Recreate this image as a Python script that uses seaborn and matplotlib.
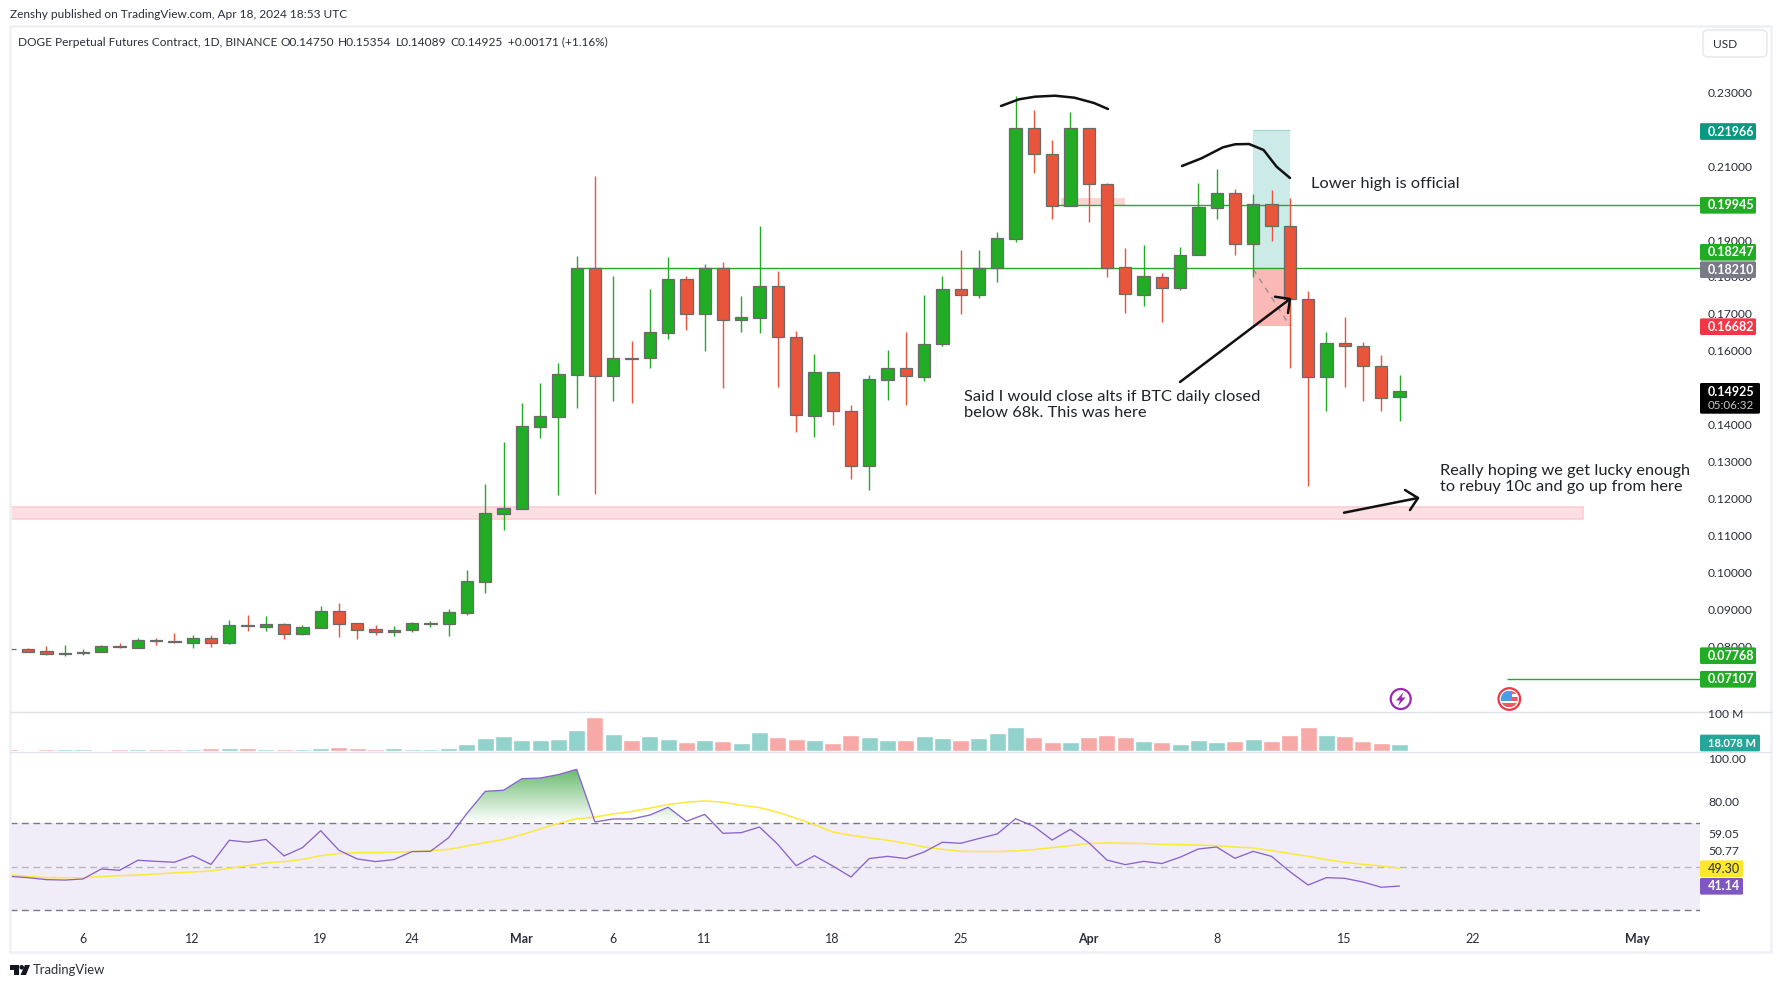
import numpy as np
import seaborn as sns
import matplotlib
matplotlib.use("Agg")
import matplotlib.pyplot as plt
from matplotlib.patches import Rectangle, Circle, Polygon, FancyBboxPatch
from matplotlib.colors import LinearSegmentedColormap

# days since Feb 6 2024, one candle per day up to Apr 18
days = list(range(-4, 73))

opens = [.07920, .07917, .07863, .07799, .07818, .07836, .07998, .07962, .08160, .08133, .08097, .08215,
         .08097, .08567, .08531, .08594, .08341, .08504, .08946, .08621, .08458, .08395, .08449, .08612,
         .08612, .08910, .09749, .11590, .11726, .13946, .14217, .15354, .18243, .15327, .15797, .15797,
         .16492, .17936, .17006, .18234, .16826, .16898, .17746, .16365, .14244, .15418, .14362, .12872,
         .15219, .15526, .15300, .16176, .17665, .17521, .18234, .19037, .22025, .21321, .19931, .22025,
         .20508, .18261, .17521, .17990, .17710, .18586, .19876, .20265, .18902, .19967, .19371, .17394,
         .15282, .16203, .16122, .15580, .14750]
closes = [.07914, .07854, .07799, .07818, .07836, .07998, .07980, .08160, .08151, .08124, .08215, .08097,
          .08567, .08558, .08594, .08341, .08513, .08946, .08612, .08449, .08395, .08432, .08621, .08621,
          .08919, .09758, .11599, .11735, .13955, .14226, .15363, .18243, .15327, .15797, .15788, .16501,
          .17936, .17006, .18234, .16826, .16916, .17746, .16365, .14253, .15418, .14362, .12872, .15228,
          .15526, .15309, .16176, .17665, .17521, .18234, .19046, .22025, .21321, .19931, .22025, .20508,
          .18252, .17530, .18017, .17710, .18586, .19886, .20265, .18902, .19967, .19371, .17394, .15282,
          .16203, .16122, .15580, .14732, .14925]
highs = [.08007, .07953, .08007, .08034, .07926, .08034, .08088, .08215, .08215, .08350, .08305, .08305,
         .08711, .08847, .08819, .08630, .08576, .09090, .09171, .08621, .08576, .08549, .08657, .08684,
         .09000, .10065, .12394, .13531, .14587, .15129, .15670, .18568, .20734, .18026, .16266, .17674,
         .18541, .18026, .18351, .18405, .17485, .19380, .18162, .16537, .15914, .15418, .14533, .15345,
         .16022, .16510, .17512, .18026, .18730, .18730, .19218, .22900, .22521, .21709, .22467, .22025,
         .20544, .18784, .18866, .18107, .18811, .20544, .20923, .20382, .20247, .20355, .20138, .17620,
         .16510, .16916, .16239, .15887, .15354]
lows = [.07845, .07854, .07763, .07736, .07763, .07836, .07953, .07953, .08034, .08088, .07953, .07980,
        .08061, .08413, .08413, .08197, .08305, .08495, .08251, .08197, .08305, .08278, .08387, .08522,
        .08278, .08847, .09442, .11148, .11726, .13639, .12096, .14452, .12123, .14650, .14596, .15544,
        .16320, .16564, .15995, .14993, .16510, .16483, .15020, .13802, .13667, .13992, .12529, .12231,
        .14668, .14533, .15183, .16131, .16997, .17430, .17864, .18947, .20815, .19570, .19931, .19488,
        .17999, .17024, .17214, .16781, .17647, .18586, .19570, .18595, .17999, .18974, .15535, .12340,
        .14371, .15020, .14641, .14371, .14089]

# volume in millions
volume = [5.2, 2.6, 5.2, 5.2, 5.2, 2.6, 5.2, 5.2, 5.2, 5.2, 5.2, 7.7, 7.7, 7.7, 5.2, 5.2, 5.2, 7.7, 10.3,
          7.7, 5.2, 7.7, 5.2, 5.2, 7.7, 18.1, 33.6, 38.7, 28.4, 28.4, 31.0, 54.2, 87.8, 43.9, 28.4, 38.7,
          31.0, 23.2, 28.4, 25.8, 20.7, 49.1, 36.2, 31.0, 28.4, 20.7, 41.3, 36.2, 28.4, 28.4, 38.7, 33.6,
          28.4, 33.6, 46.5, 62.0, 36.2, 23.2, 23.2, 36.2, 41.3, 36.2, 25.8, 23.2, 18.1, 28.4, 23.2, 25.8,
          31.0, 25.8, 41.3, 62.0, 41.3, 38.7, 25.8, 20.7, 18.078]
volume_dir = ["d", "d", "d", "u", "u", "u", "d", "u", "d", "d", "u", "d", "u", "d", "u", "d", "u", "u", "d",
              "d", "d", "u", "u", "u", "u", "u", "u", "u", "u", "u", "u", "u", "d", "u", "d", "u", "u", "d",
              "u", "d", "u", "u", "d", "d", "u", "d", "d", "u", "u", "d", "u", "u", "d", "u", "u", "u", "d",
              "d", "u", "d", "d", "d", "u", "d", "u", "u", "u", "d", "u", "d", "d", "d", "u", "d", "d", "d", "u"]

rsi = [45.6, 45.0, 44.1, 43.9, 44.4, 49.0, 48.4, 53.0, 52.5, 52.1, 55.1, 51.1, 62.2, 61.3, 62.6, 55.0, 58.8,
       66.6, 57.6, 53.6, 52.4, 53.3, 57.0, 57.1, 63.4, 74.6, 84.7, 85.2, 90.5, 90.8, 92.4, 94.8, 70.6, 72.0,
       72.0, 73.8, 77.4, 70.9, 74.1, 65.4, 65.7, 68.3, 60.3, 50.5, 55.1, 50.4, 45.3, 53.8, 54.8, 53.8, 56.8,
       61.3, 60.8, 63.0, 65.1, 72.1, 68.6, 62.3, 67.2, 61.1, 53.1, 51.0, 52.5, 51.5, 54.4, 58.2, 59.1, 53.9,
       57.1, 54.8, 47.8, 41.6, 45.0, 44.7, 43.0, 40.6, 41.14]
rsi_ma = [46.4, 45.6, 45.0, 45.0, 45.0, 45.5, 45.9, 46.2, 46.7, 47.2, 47.6, 48.1, 49.3, 50.5, 51.8, 52.4, 53.4,
          55.1, 56.1, 56.5, 56.5, 56.7, 57.0, 57.4, 58.0, 59.6, 61.1, 62.6, 64.8, 67.4, 70.0, 72.1, 72.9, 74.3,
          75.4, 77.0, 78.6, 79.7, 80.3, 79.7, 78.3, 77.2, 75.1, 72.3, 69.4, 66.0, 64.5, 63.3, 62.2, 60.8, 59.1,
          58.0, 57.1, 57.0, 57.0, 57.3, 57.9, 58.8, 59.7, 60.7, 61.0, 60.8, 60.7, 60.3, 60.2, 60.0, 59.7, 59.1,
          58.7, 57.4, 56.1, 54.8, 53.3, 52.1, 51.1, 50.4, 49.30]

price_ticks = [.08, .09, .10, .11, .12, .13, .14, .15, .16, .17, .18, .19, .20, .21, .22, .23]
rsi_ticks = [100, 80]
date_ticks = [0, 6, 13, 18, 24, 29, 34, 41, 48, 55, 62, 69, 76, 85]
date_labels = ["6", "12", "19", "24", "Mar", "6", "11", "18", "25", "Apr", "8", "15", "22", "May"]

# labels on the right scale: centre in pixels (pushed apart as on the chart), text, box colour
price_tags = [(131.5, "0.21966", "#089981"), (205.3, "0.19945", "#22AB24"), (252.3, "0.18247", "#22AB24"),
              (269.7, "0.18210", "#787B86"), (326.7, "0.16682", "#F23645"), (655.7, "0.07768", "#22AB24"),
              (679.3, "0.07107", "#22AB24")]

GREEN = "#22AB24"
RED = "#E8553A"
W, H = 1780, 988
FONT = "Lato"
TXT = "#2A2E39"
AXIS_FS = 8.7
TAG_FS = 9.0

sns.set_theme(style="white")
plt.rcParams["font.family"] = [FONT, "DejaVu Sans"]


def px_axes(fig, left, top, right, bottom):
    return fig.add_axes([left / W, 1 - bottom / H, (right - left) / W, (bottom - top) / H])


fig = plt.figure(figsize=(W / 100, H / 100), dpi=100, facecolor="white")

# pane limits come from the scale
day_per_px = 1 / 18.285
xlim = ((10 - 83) * day_per_px, (1700 - 83) * day_per_px)

ax = px_axes(fig, 10, 26, 1700, 712)
ax.set_xlim(*xlim)
ax.set_ylim(.0622, .24795)
ax_vol = px_axes(fig, 10, 712, 1700, 751)
ax_rsi = px_axes(fig, 10, 751, 1700, 925)

# --- price pane ---
ax.add_patch(Rectangle((-4, .11455), 86.03, .00307, fc="#FCDFE2", ec="#FBCDD2", lw=1.2, zorder=1))
ax.add_patch(Rectangle((53.5, .19940), 3.5, .00198, fc="#F9D5D0", ec="none", zorder=1))
ax.add_patch(Rectangle((64, .18210), 2, .03756, fc="#CBEAE8", ec="none", zorder=1))
ax.hlines(.21966, 64, 66, color="#A5DAD5", lw=1, zorder=1)
ax.add_patch(Rectangle((64, .16682), 2, .01528, fc="#FBB9B6", ec="none", zorder=1))
ax.plot([64, 66], [.18210, .16682], color="#9A8F95", lw=1, ls=(0, (4, 4)), zorder=1.5)

ax.hlines(.19945, 52.7, xlim[1], color=GREEN, lw=1.0, zorder=2)
ax.hlines(.18247, 27, xlim[1], color=GREEN, lw=1.0, zorder=2)
ax.hlines(.07107, 77.9, xlim[1], color=GREEN, lw=1.0, zorder=2)

candle_colors = [GREEN if c >= o else RED for o, c in zip(opens, closes)]
ax.vlines(days, lows, highs, colors=candle_colors, lw=1.0, zorder=3)
body_bottom = np.minimum(opens, closes)
body_height = np.abs(np.array(closes) - np.array(opens))
ax.bar(days, body_height, bottom=body_bottom, width=0.67, color=candle_colors,
       edgecolor="#6A6A6A", linewidth=0.9, zorder=4)

ax.yaxis.tick_right()
ax.set_yticks(price_ticks)
ax.set_yticklabels([f"{t:.5f}" for t in price_ticks])
ax.tick_params(axis="y", length=0, pad=5.8, labelsize=AXIS_FS, labelcolor=TXT)
ax.set_xticks([])
for s in ax.spines.values():
    s.set_visible(False)
ax.patch.set_alpha(0)

# --- volume pane ---
sns.barplot(x=days, y=volume, hue=volume_dir, palette={"u": "#92D2CC", "d": "#F7A9A7"}, native_scale=True,
            dodge=False, width=0.93, saturation=1, errorbar=None, legend=False, ax=ax_vol)
ax_vol.set_xlim(*xlim)
ax_vol.set_ylim(0, 100.7)
ax_vol.set_xticks([])
ax_vol.set_yticks([])
ax_vol.set_xlabel("")
ax_vol.set_ylabel("")
for s in ax_vol.spines.values():
    s.set_visible(False)

# --- RSI pane ---
ax_rsi.axhspan(30, 70, color="#F0EDF8", lw=0, zorder=0)
ax_rsi.axhline(70, color="#787B86", lw=1.0, ls=(0, (5, 3.2)), zorder=1)
ax_rsi.axhline(50, color="#B7B8C0", lw=1.0, ls=(0, (5, 3.2)), zorder=1)
ax_rsi.axhline(30, color="#787B86", lw=1.0, ls=(0, (5, 3.2)), zorder=1)

# overbought gradient, clipped to the area between RSI and 70
ob = ax_rsi.fill_between(days, 70, rsi, where=np.array(rsi) >= 70, interpolate=True, color="none", lw=0)
cmap = LinearSegmentedColormap.from_list("ob", ["#FFFFFF", "#62B768"])
grad = ax_rsi.imshow(np.linspace(1, 0, 100).reshape(-1, 1), extent=[xlim[0], xlim[1], 70, 96], cmap=cmap,
                     aspect="auto", zorder=1.5, origin="upper")
grad.set_clip_path(ob.get_paths()[0], transform=ax_rsi.transData)

sns.lineplot(x=days, y=rsi_ma, color="#FDE93A", lw=1.1, ax=ax_rsi, zorder=2)
sns.lineplot(x=days, y=rsi, color="#8A63CC", lw=0.95, ax=ax_rsi, zorder=3)
ax_rsi.set_xlim(*xlim)
ax_rsi.set_ylim(23.24, 103.24)
ax_rsi.yaxis.tick_right()
ax_rsi.set_yticks(rsi_ticks)
ax_rsi.set_yticklabels([f"{t:.2f}" for t in rsi_ticks])
ax_rsi.tick_params(axis="y", length=0, pad=5.8, labelsize=AXIS_FS, labelcolor=TXT)
ax_rsi.set_xticks(date_ticks)
ax_rsi.set_xticklabels(date_labels)
ax_rsi.tick_params(axis="x", length=0, pad=6, labelsize=9, labelcolor=TXT)
for lab in ax_rsi.get_xticklabels():
    if lab.get_text() in ("Mar", "Apr", "May"):
        lab.set_fontweight("bold")
for s in ax_rsi.spines.values():
    s.set_visible(False)
ax_rsi.patch.set_alpha(0)

# --- page chrome and drawings, in pixel coordinates ---
ov = fig.add_axes([0, 0, 1, 1], zorder=10)
ov.set_xlim(0, W)
ov.set_ylim(H, 0)
ov.axis("off")
ov.patch.set_alpha(0)

FRAME = "#EFF0F6"
ov.plot([10, 10, 1771, 1771, 10], [952, 26, 26, 952, 952], color=FRAME, lw=1.8, zorder=1)
ov.plot([10, 1771], [712, 712], color="#E0E3EB", lw=1.0, zorder=1)
ov.plot([10, 1771], [751.8, 751.8], color="#E0E3EB", lw=0.9, zorder=1)

ov.text(10, 15, "Zenshy published on TradingView.com, Apr 18, 2024 18:53 UTC", fontsize=8.6, color=TXT, va="center")
ov.text(18, 42, "DOGE Perpetual Futures Contract, 1D, BINANCE", fontsize=8.6, color=TXT, va="center")
ov.text(280.7, 42, "O0.14750", fontsize=8.6, color=TXT, va="center")
ov.text(338, 42, "H0.15354", fontsize=8.6, color=TXT, va="center")
ov.text(395.4, 42, "L0.14089", fontsize=8.6, color=TXT, va="center")
ov.text(450.8, 42, "C0.14925", fontsize=8.6, color=TXT, va="center")
ov.text(507.7, 42, "+0.00171 (+1.16%)", fontsize=8.5, color=TXT, va="center")

ov.add_patch(FancyBboxPatch((1703, 30), 64, 27, boxstyle="round,pad=0,rounding_size=5", fc="white",
                            ec="#E9EAF2", lw=1.2, mutation_aspect=1))
ov.text(1713, 44.5, "USD", fontsize=8.6, color=TXT, va="center")


def hand_line(pts, lw=1.8):
    x, y = zip(*pts)
    ov.plot(x, y, color="#111111", lw=lw, solid_capstyle="round", solid_joinstyle="round", zorder=3)


hand_line([(1001, 106), (1019, 99.3), (1035, 96.7), (1055, 95.7), (1074.5, 97.7), (1094, 103), (1108, 109)])
hand_line([(1182, 166), (1201.5, 158.3), (1223, 147.3), (1235, 144.3), (1249, 144), (1263.6, 150),
           (1276.6, 166.7), (1290, 178)])
hand_line([(1180, 382), (1290, 299)])
hand_line([(1275, 296.7), (1290, 299), (1288, 313)])
hand_line([(1344, 512.7), (1418, 498)])
hand_line([(1405, 490), (1418, 498), (1410, 510)])

NOTE = dict(fontsize=11.75, color="#1F2228", va="center")
ov.text(1311, 183.7, "Lower high is official", **NOTE)
ov.text(964, 396.7, "Said I would close alts if BTC daily closed", **NOTE)
ov.text(964, 412.7, "below 68k. This was here", **NOTE)
ov.text(1439.6, 471, "Really hoping we get lucky enough", **NOTE)
ov.text(1439.6, 487, "to rebuy 10c and go up from here", **NOTE)


def tag(yc, text, color, right=1756, tcolor="white", h=16.7, bold=True, fs=TAG_FS):
    ov.add_patch(FancyBboxPatch((1700, yc - h / 2), right - 1700, h, boxstyle="round,pad=0,rounding_size=1.5",
                                fc=color, ec="none", zorder=5))
    ov.text(1708, yc, text, fontsize=fs, color=tcolor, va="center", zorder=6,
            fontweight="bold" if bold else "normal")


for yc, text, color in price_tags:
    tag(yc, text, color)

ov.add_patch(FancyBboxPatch((1700, 383), 60, 30.7, boxstyle="round,pad=0,rounding_size=1.5", fc="black", ec="none",
                            zorder=5))
ov.text(1708, 391.5, "0.14925", fontsize=TAG_FS, color="white", va="center", fontweight="bold", zorder=6)
ov.text(1708, 405.5, "05:06:32", fontsize=8.4, color="#C8C8C8", va="center", zorder=6)

vol_lab = ov.text(1708, 714.5, "100 M", fontsize=AXIS_FS, color=TXT, va="center", zorder=2)
vol_lab.set_clip_path(Rectangle((1700, 712.5), 70, 20, transform=ov.transData))
tag(743, "18.078 M", "#26A69A", right=1760, fs=8.0)

ov.text(1708, 834.7, "59.05", fontsize=AXIS_FS, color=TXT, va="center")
ov.text(1708, 851.7, "50.77", fontsize=AXIS_FS, color=TXT, va="center")
tag(868.7, "49.30", "#FDE62D", right=1743, tcolor=TXT, bold=False)
tag(886.3, "41.14", "#7E57C2", right=1743)

# event icons above the volume pane
ov.add_patch(Circle((1400.7, 699), 10, fc="white", ec="#9C27B0", lw=1.6, zorder=4))
ov.add_patch(Polygon([(1403.5, 692), (1396, 700.5), (1400, 700.5), (1398, 706), (1405.5, 697.5), (1401.5, 697.5)],
                     fc="#9C27B0", ec="none", zorder=5))
ov.add_patch(Circle((1509.3, 699), 10.8, fc="white", ec="#F23645", lw=1.6, zorder=4))
flag_clip = Circle((1509.3, 699), 8.4, transform=ov.transData)
for xr, yr, wr, hr, col in [(1511, 690, 10, 3.5, "#F2555E"), (1511, 696.7, 10, 4, "#F2555E"),
                            (1500, 702.7, 20, 4, "#F2555E"), (1501, 691, 10.7, 9.7, "#4C9BE8")]:
    piece = Rectangle((xr, yr), wr, hr, fc=col, ec="none", zorder=5)
    ov.add_patch(piece)
    piece.set_clip_path(flag_clip)

# footer logo
ov.add_patch(Polygon([(10, 965), (19, 965), (19, 975), (14, 975), (14, 970), (10, 970)], fc="#131722", ec="none"))
ov.add_patch(Circle((21.7, 967.3), 2.3, fc="#131722", ec="none"))
ov.add_patch(Polygon([(25, 965), (30, 965), (26, 975), (20.5, 975)], fc="#131722", ec="none"))
ov.text(33, 970, "TradingView", fontsize=9.4, color="#2A2E39", va="center")

fig.savefig("out.png", dpi=100)
